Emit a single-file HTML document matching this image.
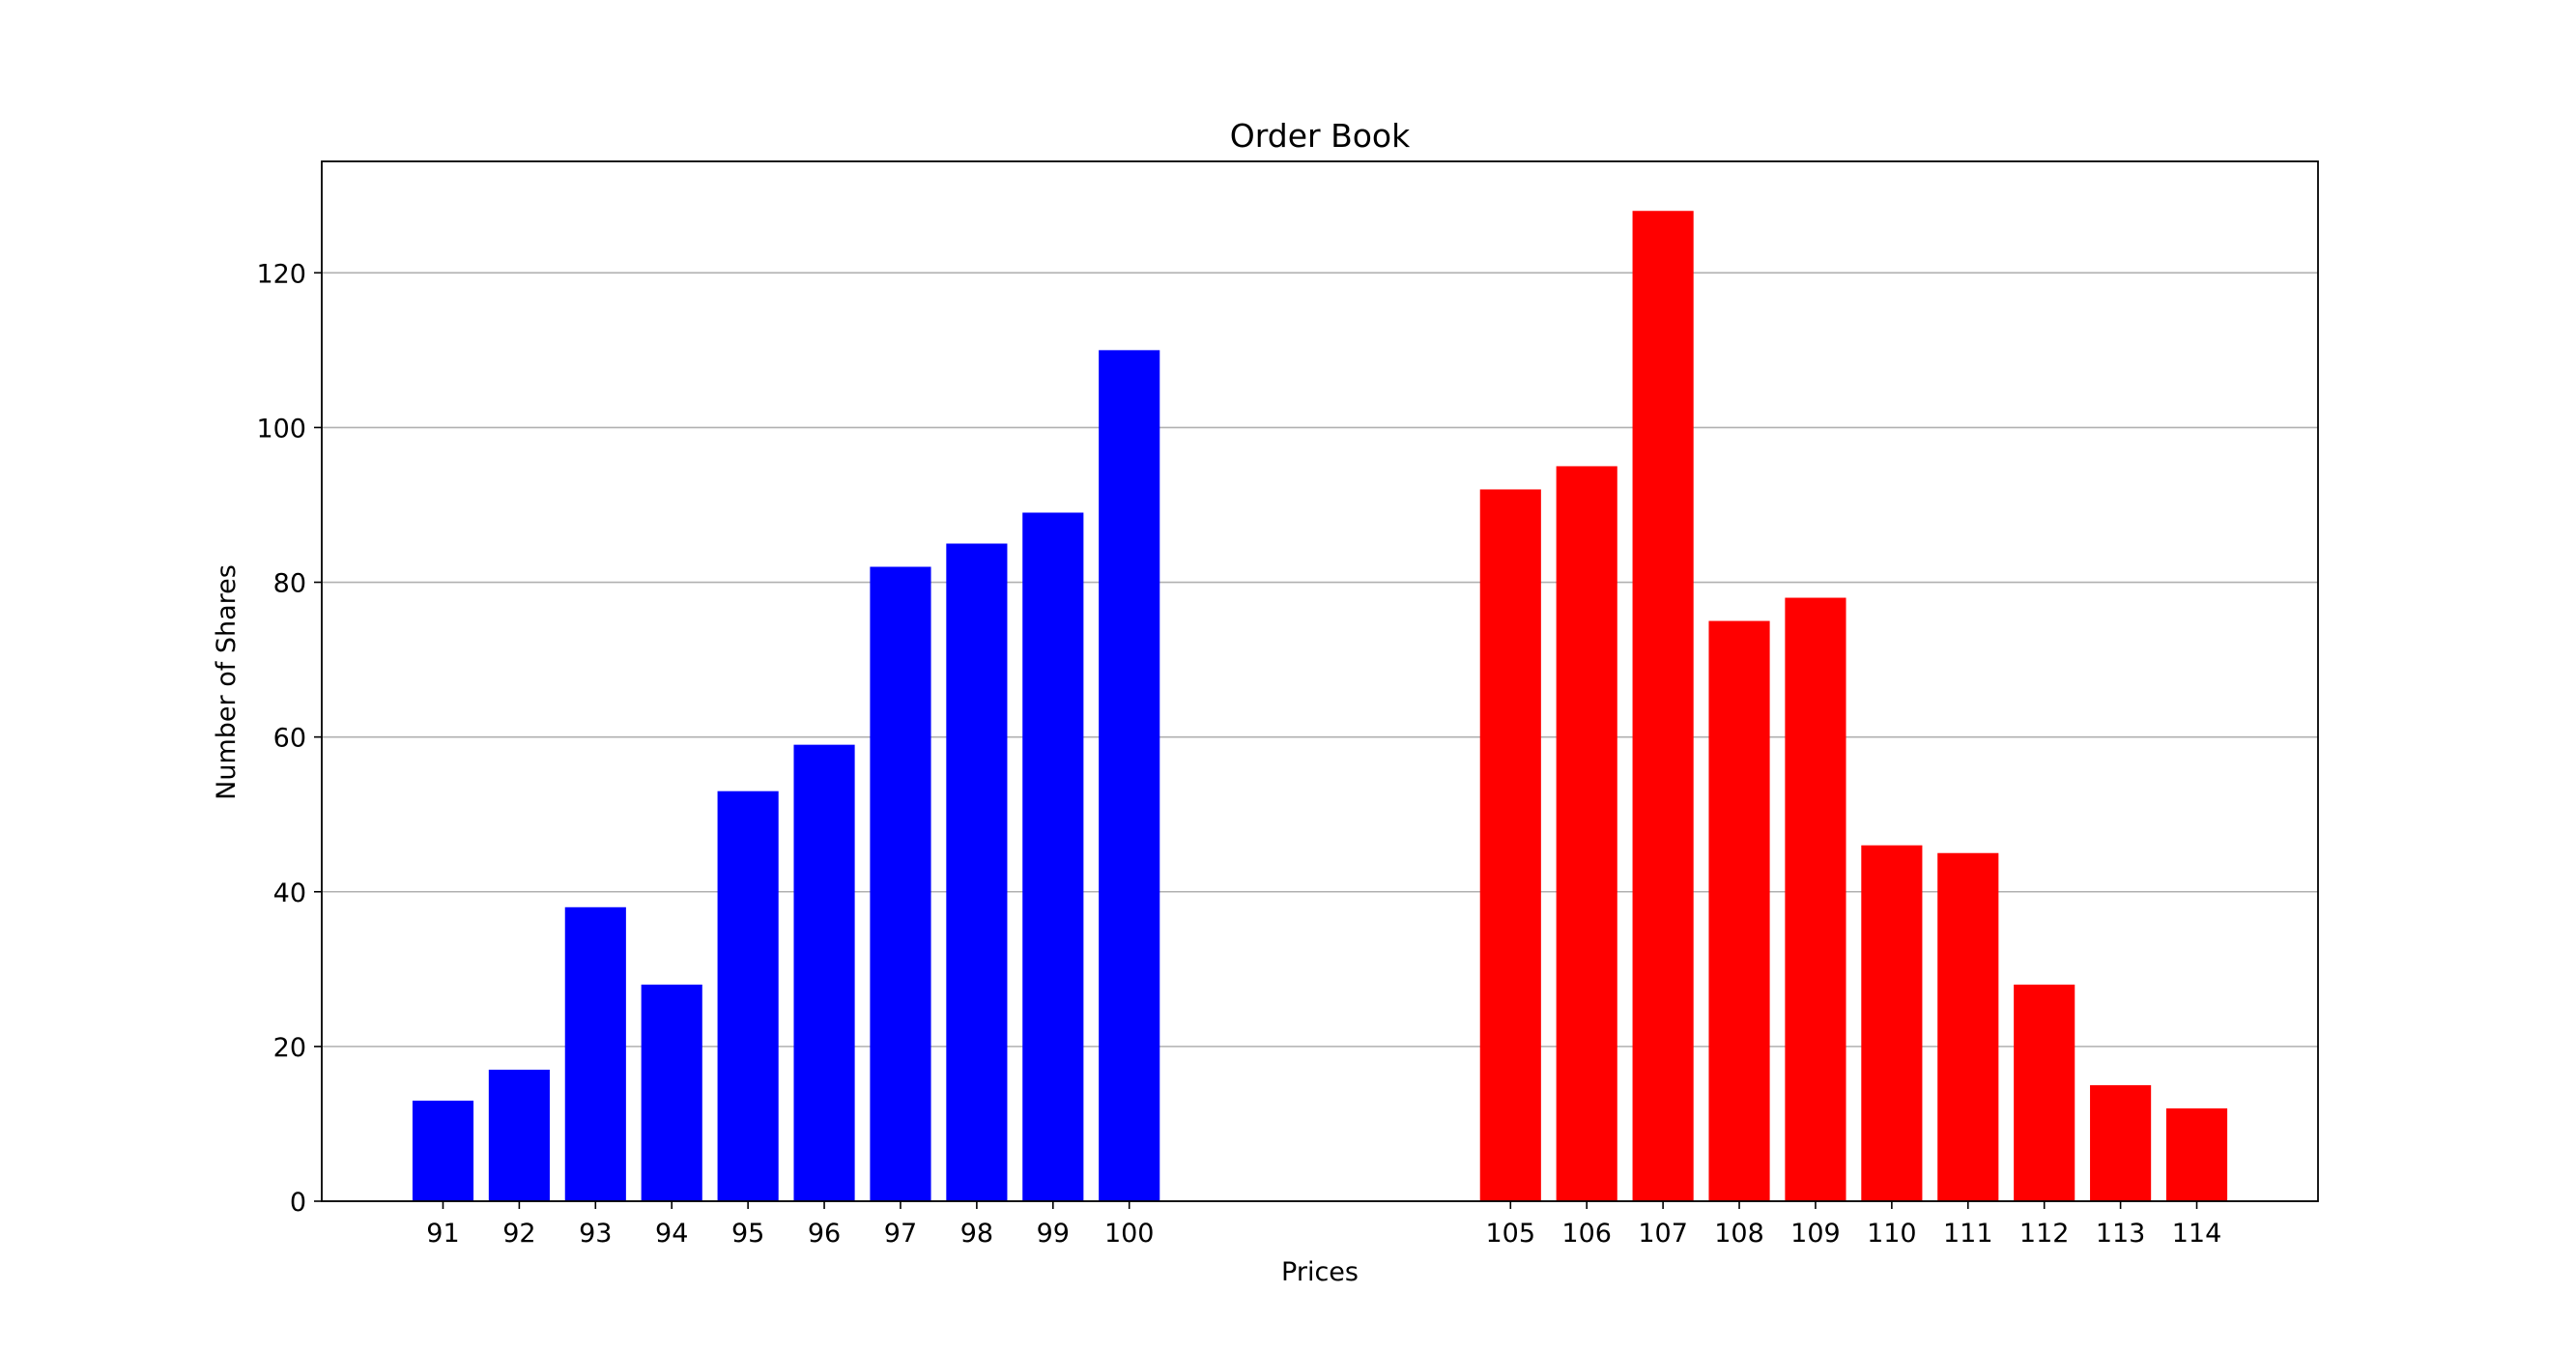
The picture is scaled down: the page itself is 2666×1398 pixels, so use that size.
<!DOCTYPE html>
<html><head><meta charset="utf-8"><style>
html,body{margin:0;padding:0;background:#fff;}
svg{display:block;font-family:"DejaVu Sans","Liberation Sans",sans-serif;}
</style></head><body>
<svg id="chart" width="2666" height="1398" viewBox="0 0 2666 1398" xmlns="http://www.w3.org/2000/svg">
<rect width="2666" height="1398" fill="#fff"/>
<g id="grid"></g>
<g id="bars"></g>
<g id="axes"></g>
<text x="1366" y="152" font-size="33" text-anchor="middle">Order Book</text>
<text x="1366" y="1325" font-size="27" text-anchor="middle">Prices</text>
<text transform="translate(243,706) rotate(-90)" font-size="27" text-anchor="middle">Number of Shares</text>
</svg>
<script>
const bidPrices = [91,92,93,94,95,96,97,98,99,100];
const bidShares = [13,17,38,28,53,59,82,85,89,110];
const askPrices = [105,106,107,108,109,110,111,112,113,114];
const askShares = [92,95,128,75,78,46,45,28,15,12];
const yTicks = [0,20,40,60,80,100,120];

const NS = 'http://www.w3.org/2000/svg';
const L = 333, R = 2399, T = 167, B = 1243;
const allP = bidPrices.concat(askPrices);
const allS = bidShares.concat(askShares);
const pMin = Math.min(...allP) - 0.4, pMax = Math.max(...allP) + 0.4;
const pad = (pMax - pMin) * 0.05;
const xMin = pMin - pad, xMax = pMax + pad;
const yMax = Math.max(...allS) * 1.05;
function x(v){ return L + (v - xMin) / (xMax - xMin) * (R - L); }
function y(v){ return B - v / yMax * (B - T); }
function mk(tag, attrs, parent){
  const e = document.createElementNS(NS, tag);
  for (const k in attrs) e.setAttribute(k, attrs[k]);
  parent.appendChild(e);
  return e;
}
const grid = document.getElementById('grid');
const bars = document.getElementById('bars');
const axes = document.getElementById('axes');

yTicks.forEach(t => {
  const gl = mk('line', {x1:L, x2:R, y1:y(t), y2:y(t), stroke:'#b0b0b0', 'stroke-width':1.6}, grid);
  
  
  const tk = mk('line', {x1:L-8, x2:L, y1:y(t), y2:y(t), stroke:'#000', 'stroke-width':1.6}, axes);
  
  
  const tx = mk('text', {x:L-16, y:y(t)+10, 'font-size':27, 'text-anchor':'end'}, axes);
  tx.textContent = t;
  
  
});

function drawSeries(prices, shares, color, name){
  prices.forEach((p, i) => {
    const w = x(p + 0.4) - x(p - 0.4);
    const r = mk('rect', {x:x(p-0.4), y:y(shares[i]), width:w, height:B - y(shares[i]), fill:color}, bars);
    
    
    const tk = mk('line', {x1:x(p), x2:x(p), y1:B, y2:B+8, stroke:'#000', 'stroke-width':1.6}, axes);
    
    
    const tx = mk('text', {x:x(p), y:1285, 'font-size':27, 'text-anchor':'middle'}, axes);
    tx.textContent = p;
    
    
  });
}
drawSeries(bidPrices, bidShares, '#0000ff', 'bid');
drawSeries(askPrices, askShares, '#ff0000', 'ask');

const frame = mk('rect', {x:L, y:T, width:R-L, height:B-T, fill:'none', stroke:'#000', 'stroke-width':1.8}, axes);


</script>
</body></html>
